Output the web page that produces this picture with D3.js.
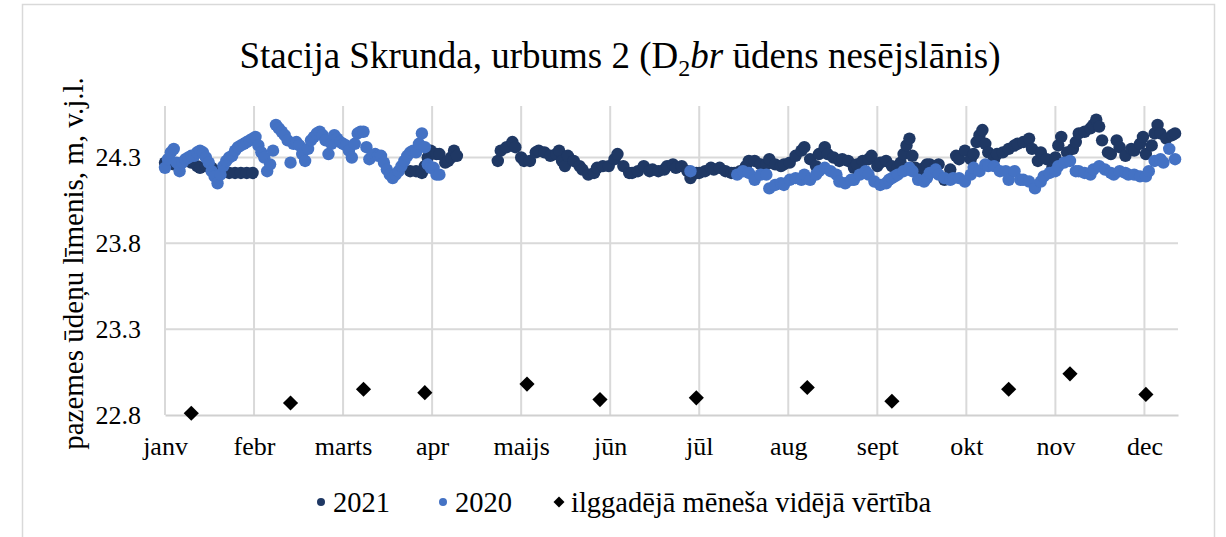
<!DOCTYPE html>
<html>
<head>
<meta charset="utf-8">
<script src="https://cdn.jsdelivr.net/npm/d3@7"></script>
<style>
  html, body { margin: 0; padding: 0; background: #fff; }
  svg { display: block; }
</style>
</head>
<body>
<svg id="chart" width="1226" height="537"></svg>
<script>
// Month labels on the horizontal axis and the level ticks
const monthLabels = ["janv", "febr", "marts", "apr", "maijs", "jūn", "jūl", "aug", "sept", "okt", "nov", "dec"];
const yTicks = [22.8, 23.3, 23.8, 24.3];

// Groundwater level, m a.s.l.: day of the year (0 = 1 Jan) and the reading
const days2021 = [
  0, 2, 3, 5, 7, 9, 11, 12, 14, 16, 18, 20, 22, 24, 26, 28, 30,
  84, 86, 88, 89, 90, 91, 93, 94, 96, 97, 98, 99, 100,
  114, 115, 117, 119, 120, 122, 123, 125, 127, 128, 130, 132, 134, 135, 136, 137, 138, 140, 142, 143,
  145, 147, 148, 150, 152, 154, 155, 157, 159, 160, 162, 164, 166, 167, 169, 171, 172, 174, 175, 177,
  179, 180, 182, 183, 185, 187, 188, 190, 192, 194, 195, 197, 199, 200, 202, 204, 206, 207, 209, 211,
  212, 214, 216, 218, 219, 221, 223, 224, 226, 227, 229, 231, 232, 234, 236, 237, 239, 241, 242, 244,
  245, 247, 249, 251, 252, 253, 254, 255, 256, 257, 258, 260, 261, 262, 264, 265, 267, 269, 271, 272,
  274, 276, 277, 278, 279, 280, 281, 282, 284, 285, 287, 289, 291, 292, 294, 296, 297, 299, 300, 302,
  304, 305, 306, 307, 309, 311, 312, 313, 315, 317, 318, 319, 320, 321, 323, 324, 326, 327, 329, 331,
  332, 334, 335, 336, 338, 339, 340, 341, 343, 345, 346
];
const level2021 = [
  24.27, 24.27, 24.26, 24.26, 24.28, 24.27, 24.25, 24.24, 24.25, 24.24, 24.22, 24.23, 24.21, 24.21, 24.21, 24.21, 24.21,
  24.22, 24.22, 24.21, 24.25, 24.30, 24.34, 24.32, 24.32, 24.27, 24.28, 24.30, 24.34, 24.31,
  24.28, 24.34, 24.36, 24.39, 24.36, 24.30, 24.28, 24.28, 24.33, 24.34, 24.33, 24.31, 24.32, 24.34, 24.28, 24.25, 24.31, 24.28, 24.25, 24.23,
  24.20, 24.21, 24.24, 24.25, 24.25, 24.29, 24.32, 24.25, 24.21, 24.21, 24.22, 24.25, 24.22, 24.23, 24.22, 24.23, 24.25, 24.26, 24.24, 24.25,
  24.22, 24.18, 24.21, 24.21, 24.22, 24.24, 24.23, 24.24, 24.22, 24.21, 24.21, 24.22, 24.25, 24.28, 24.28, 24.26, 24.26, 24.29, 24.26, 24.25,
  24.26, 24.27, 24.31, 24.34, 24.36, 24.29, 24.25, 24.32, 24.36, 24.32, 24.30, 24.28, 24.29, 24.28, 24.24, 24.26, 24.28, 24.29, 24.31, 24.25,
  24.27, 24.28, 24.25, 24.24, 24.27, 24.32, 24.37, 24.41, 24.31, 24.24, 24.21, 24.24, 24.26, 24.26, 24.25, 24.26, 24.17, 24.23, 24.31, 24.29,
  24.34, 24.29, 24.32, 24.39, 24.43, 24.46, 24.38, 24.33, 24.29, 24.32, 24.33, 24.35, 24.37, 24.38, 24.39, 24.41, 24.35, 24.28, 24.33, 24.29,
  24.24, 24.30, 24.37, 24.42, 24.33, 24.35, 24.39, 24.44, 24.45, 24.47, 24.49, 24.52, 24.48, 24.40, 24.33, 24.32, 24.40, 24.36, 24.31, 24.35,
  24.34, 24.38, 24.42, 24.32, 24.37, 24.44, 24.49, 24.44, 24.41, 24.43, 24.44
];

const days2020 = [
  0, 1, 2, 3, 4, 5, 6, 7, 8, 9, 10, 11, 12, 13, 14, 15, 16, 17, 18, 19,
  20, 21, 22, 23, 24, 25, 26, 27, 28, 29, 30, 31, 32, 33, 34, 35, 36, 37, 38, 39,
  40, 41, 42, 43, 44, 45, 46, 47, 48, 49, 50, 51, 52, 53, 54, 55, 56, 57, 58, 59,
  60, 61, 62, 63, 64, 65, 66, 67, 68, 69, 70, 71, 72, 73, 74, 75, 76, 77, 78, 79,
  80, 81, 82, 83, 84, 85, 86, 87, 88, 89, 90, 91, 92, 93, 94,
  180,
  196, 198, 200, 202, 204, 206, 207, 209, 211, 212, 214, 216, 218, 219, 221, 223, 224, 226, 228, 230,
  231, 233, 235, 236, 238, 240, 241, 243, 245, 247, 248, 249, 250, 251, 253, 255, 256, 258, 260, 261,
  262, 264, 265, 267, 269, 270, 272, 274, 276, 277, 279, 281, 282, 284, 286, 288, 289, 291, 293, 294,
  296, 298, 300, 301, 303, 305, 306, 308, 310, 312, 313, 315, 317, 318, 320, 322, 324, 325, 327, 329,
  330, 332, 334, 336, 337, 339, 341, 342, 344, 346
];
const level2020 = [
  24.24, 24.29, 24.33, 24.35, 24.27, 24.22, 24.27, 24.29, 24.30, 24.31, 24.31, 24.33, 24.34, 24.33, 24.30, 24.27, 24.22, 24.19, 24.15, 24.20,
  24.25, 24.28, 24.30, 24.31, 24.34, 24.36, 24.37, 24.38, 24.39, 24.40, 24.41, 24.42, 24.37, 24.33, 24.30, 24.22, 24.26, 24.34, 24.49, 24.47,
  24.45, 24.43, 24.40, 24.27, 24.38, 24.39, 24.37, 24.32, 24.28, 24.35, 24.40, 24.42, 24.44, 24.45, 24.43, 24.40, 24.32, 24.38, 24.43, 24.41,
  24.39, 24.38, 24.37, 24.34, 24.30, 24.38, 24.44, 24.45, 24.45, 24.36, 24.29, 24.31, 24.32, 24.31, 24.31, 24.27, 24.23, 24.20, 24.18, 24.20,
  24.22, 24.25, 24.28, 24.31, 24.33, 24.34, 24.33, 24.38, 24.44, 24.36, 24.26, 24.24, 24.24, 24.20, 24.20,
  24.22,
  24.20, 24.22, 24.21, 24.17, 24.20, 24.20, 24.12, 24.14, 24.15, 24.14, 24.17, 24.18, 24.17, 24.20, 24.17, 24.20, 24.22, 24.24, 24.22, 24.20,
  24.16, 24.15, 24.17, 24.17, 24.20, 24.22, 24.20, 24.16, 24.14, 24.15, 24.17, 24.18, 24.19, 24.20, 24.22, 24.24, 24.22, 24.17, 24.16, 24.18,
  24.21, 24.23, 24.20, 24.18, 24.17, 24.18, 24.18, 24.16, 24.20, 24.24, 24.22, 24.26, 24.25, 24.25, 24.22, 24.22, 24.17, 24.22, 24.17, 24.17,
  24.16, 24.12, 24.16, 24.19, 24.21, 24.22, 24.25, 24.27, 24.28, 24.22, 24.22, 24.21, 24.20, 24.23, 24.25, 24.23, 24.21, 24.20, 24.22, 24.21,
  24.20, 24.20, 24.19, 24.19, 24.22, 24.28, 24.29, 24.27, 24.35, 24.29
];

// Long-term monthly mean level and the day on which each is plotted
const avgDay = [9, 43, 68, 89, 124, 149, 182, 220, 249, 289, 310, 336];
const avgLevel = [22.81, 22.87, 22.95, 22.93, 22.98, 22.89, 22.90, 22.96, 22.88, 22.95, 23.04, 22.92];

const MONTH_DAYS = 30.5;   // axis spacing of one month
const LAST_DAY = 347;
const FONT = "'Liberation Serif', 'Times New Roman', serif";

const colors = { y2021: "#1f3864", y2020: "#4472C4", avg: "#000000" };

const pts2021 = days2021.map((d, i) => ({ day: d, value: level2021[i] }));
const pts2020 = days2020.map((d, i) => ({ day: d, value: level2020[i] }));
const ptsAvg = avgDay.map((d, i) => ({ day: d, value: avgLevel[i] }));

const svg = d3.select("#chart").style("font-family", FONT);
const plot = { left: 165, right: 1178, top: 106, bottom: 415 };

// outer chart frame
svg.append("rect")
  .attr("x", 22.5).attr("y", 4.5).attr("width", 1192).attr("height", 560)
  .attr("fill", "none").attr("stroke", "#d9d9d9").attr("stroke-width", 1.5);

const x = d3.scaleLinear().domain([0, LAST_DAY]).range([plot.left, plot.right]);
const y = d3.scaleLinear().domain([22.8, 24.6]).range([plot.bottom, plot.top]);
const monthTicks = monthLabels.map((m, i) => i * MONTH_DAYS);

// gridlines
const grid = svg.append("g").attr("class", "grid");
grid.selectAll("line.h").data(yTicks.slice(1)).join("line")
  .attr("x1", plot.left).attr("x2", plot.right)
  .attr("y1", d => y(d)).attr("y2", d => y(d))
  .attr("stroke", "#d9d9d9").attr("stroke-width", 2);
grid.selectAll("line.v").data(monthTicks).join("line")
  .attr("x1", d => x(d)).attr("x2", d => x(d))
  .attr("y1", plot.top).attr("y2", plot.bottom)
  .attr("stroke", "#d9d9d9").attr("stroke-width", 2);

// x axis
const xAxis = d3.axisBottom(x).tickValues(monthTicks).tickFormat((d, i) => monthLabels[i]).tickSize(0).tickPadding(22);
const gx = svg.append("g").attr("transform", `translate(0,${plot.bottom})`).call(xAxis);
gx.select(".domain").attr("stroke", "#d0d0d0").attr("stroke-width", 2);
gx.selectAll("text").attr("font-size", 26).style("font-family", FONT).attr("fill", "#000");

// y axis
const yAxis = d3.axisLeft(y).tickValues(yTicks).tickFormat(d3.format(".1f")).tickSize(0).tickPadding(24);
const gy = svg.append("g").attr("transform", `translate(${plot.left},0)`).call(yAxis);
gy.select(".domain").attr("stroke", "#d9d9d9").attr("stroke-width", 2).attr("d", `M0,${plot.top}V${plot.bottom}`);
gy.selectAll("text").attr("font-size", 26).style("font-family", FONT).attr("fill", "#000");

// series: 2021 first, 2020 drawn over it, then the long-term means
const r = 6.2;
svg.append("g").selectAll("circle").data(pts2021).join("circle")
  .attr("cx", d => x(d.day)).attr("cy", d => y(d.value)).attr("r", r)
  .attr("fill", colors.y2021);
svg.append("g").selectAll("circle").data(pts2020).join("circle")
  .attr("cx", d => x(d.day)).attr("cy", d => y(d.value)).attr("r", r)
  .attr("fill", colors.y2020);
const diamond = d3.symbol(d3.symbolSquare, 115);
svg.append("g").selectAll("path").data(ptsAvg).join("path")
  .attr("d", diamond)
  .attr("transform", d => `translate(${x(d.day)},${y(d.value)}) rotate(45)`)
  .attr("fill", colors.avg);

// title
const title = svg.append("text").attr("x", 620).attr("y", 68).attr("text-anchor", "middle")
  .attr("font-size", 37).style("font-family", FONT).attr("fill", "#000");
title.append("tspan").text("Stacija Skrunda, urbums 2 (D");
title.append("tspan").attr("font-size", 24).attr("dy", 8).text("2");
title.append("tspan").attr("dy", -8).attr("font-style", "italic").text("br");
title.append("tspan").text(" ūdens nesējslānis)");

// y axis title
svg.append("text")
  .attr("transform", `translate(83,${(plot.top + plot.bottom) / 2 + 3}) rotate(-90)`)
  .attr("text-anchor", "middle").attr("font-size", 29).style("font-family", FONT).attr("fill", "#000")
  .text("pazemes ūdeņu līmenis, m, v.j.l.");

// legend
const legend = svg.append("g").attr("transform", "translate(0,502)");
const items = [
  { label: "2021", color: colors.y2021, shape: "circle", x: 321 },
  { label: "2020", color: colors.y2020, shape: "circle", x: 443 },
  { label: "ilggadējā mēneša vidējā vērtība", color: colors.avg, shape: "diamond", x: 559 }
];
items.forEach(it => {
  if (it.shape === "circle") {
    legend.append("circle").attr("cx", it.x).attr("cy", 0).attr("r", 4).attr("fill", it.color);
  } else {
    legend.append("path").attr("d", d3.symbol(d3.symbolSquare, 60)).attr("transform", `translate(${it.x},0) rotate(45)`).attr("fill", it.color);
  }
  legend.append("text").attr("x", it.x + 12).attr("y", 10).attr("font-size", 28.5)
    .style("font-family", FONT).attr("fill", "#000").text(it.label);
});
</script>
</body>
</html>
